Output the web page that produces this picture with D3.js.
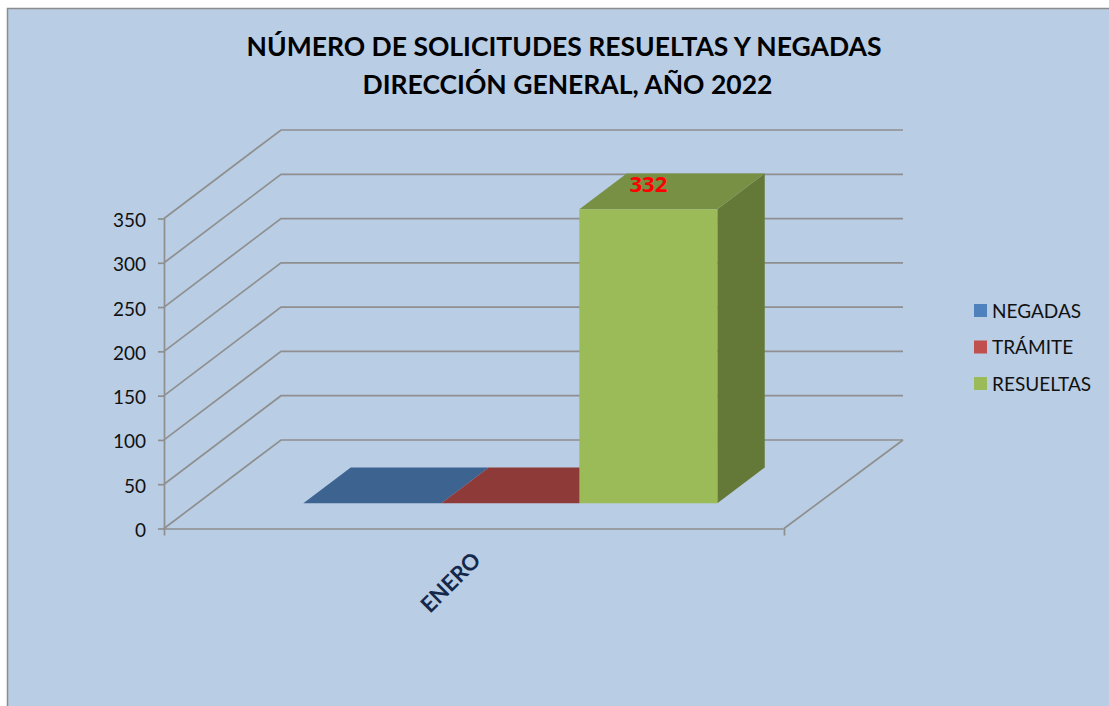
<!DOCTYPE html>
<html>
<head>
<meta charset="utf-8">
<script src="https://cdn.jsdelivr.net/npm/d3@7"></script>
<style>
  html, body { margin: 0; padding: 0; background: #fff; overflow: hidden; }
  text { font-family: Lato, "Open Sans", sans-serif; }
</style>
</head>
<body>
<script>
// Chart values
var categories = ["ENERO"];
var series = ["NEGADAS", "TRÁMITE", "RESUELTAS"];
var values = [0, 0, 332];
var yTicks = [0, 50, 100, 150, 200, 250, 300, 350];
var titleLines = ["NÚMERO DE SOLICITUDES RESUELTAS Y NEGADAS", "DIRECCIÓN GENERAL, AÑO 2022"];

// Colours per series: legend/front, top face, side face
var frontColors = ["#4f81bd", "#c0504d", "#9bbb59"];
var topColors = ["#3d6491", "#8e3a38", "#779043"];
var sideColors = ["#34557c", "#7a3230", "#647837"];

var width = 1109, height = 706;
var gridColor = "#8f8f8f";

var svg = d3.select("body").append("svg")
    .attr("width", width)
    .attr("height", height);

// Background panel, runs off the right and bottom edge of the picture
svg.append("rect")
    .attr("x", 7.5).attr("y", 8.5)
    .attr("width", width + 20).attr("height", height + 20)
    .attr("fill", "#b9cde5")
    .attr("stroke", "#8c8c8c")
    .attr("stroke-width", 1.5);

var y = d3.scaleLinear().domain([0, 350]).range([528.5, 218.5]);
var x = d3.scaleBand().domain(categories).range([164, 784]);
var seriesX = d3.scaleBand().domain(series).range([270, 684]);

// Depth of the floor goes back and up
var depthX = d3.scaleLinear().domain([0, 1]).range([0, 117]);
var depthY = d3.scaleLinear().domain([0, 1]).range([0, -88.5]);
var barDepth = [0.285, 0.69];

function project(px, value, depth) {
  return [px + depthX(depth), y(value) + depthY(depth)];
}

function face(points) {
  return "M" + points.map(function(p) { return p.join(","); }).join("L") + "Z";
}

// Gridlines: side wall and back wall
var grid = svg.append("g").attr("fill", "none").attr("stroke", gridColor).attr("stroke-width", 1.7);
yTicks.forEach(function(t) {
  var a = project(x.range()[0], t, 0), b = project(x.range()[0], t, 1), c = project(x.range()[1], t, 1);
  c[0] += 2;
  grid.append("path").attr("d", "M" + [a, b, c].map(function(p) { return p.join(","); }).join("L"));
});
// floor right edge
grid.append("path").attr("d", "M" + project(x.range()[1], 0, 0).join(",") + "L" + project(x.range()[1] + 2, 0, 1).join(","));

// Bars
series.forEach(function(s, i) {
  var left = seriesX(s), right = left + seriesX.bandwidth(), v = values[i];
  var d0 = barDepth[0], d1 = barDepth[1];
  var g = svg.append("g").attr("class", "bar");
  g.append("path").attr("fill", sideColors[i])
      .attr("d", face([project(right, 0, d0), project(right, 0, d1), project(right, v, d1), project(right, v, d0)]));
  g.append("path").attr("fill", topColors[i])
      .attr("d", face([project(left, v, d0), project(right, v, d0), project(right, v, d1), project(left, v, d1)]));
  g.append("path").attr("fill", frontColors[i])
      .attr("d", face([project(left, 0, d0), project(right, 0, d0), project(right, v, d0), project(left, v, d0)]));
});

// Axes
var yAxis = d3.axisLeft(y).tickValues(yTicks).tickSizeInner(6).tickSizeOuter(0).tickPadding(12);
var xAxis = d3.axisBottom(x).tickSizeInner(0).tickSizeOuter(7);

var yGroup = svg.append("g").attr("class", "axis y").attr("transform", "translate(164,0)").call(yAxis);
var xGroup = svg.append("g").attr("class", "axis x").attr("transform", "translate(0,528.5)").call(xAxis);

svg.selectAll(".axis path, .axis line").attr("stroke", gridColor).attr("stroke-width", 1.7);

yGroup.selectAll("text")
    .attr("font-size", 19)
    .attr("dy", "0.42em")
    .attr("fill", "#111");

xGroup.selectAll("text")
    .attr("font-size", 22)
    .attr("font-weight", 700)
    .attr("fill", "#14284b")
    .attr("text-anchor", "end")
    .attr("transform", "translate(-5,20) rotate(-45)")
    .attr("dy", "0.71em");

// Data label sits on the top face of the bar, lined up with the front face
var labelPos = project(seriesX("RESUELTAS") + seriesX.bandwidth() / 2, values[2], barDepth[0]);
svg.append("text")
    .attr("x", labelPos[0])
    .attr("y", 192)
    .attr("text-anchor", "middle")
    .style("font-family", "'Open Sans', sans-serif")
    .attr("font-size", 22)
    .attr("font-weight", 700)
    .attr("fill", "#ff0000")
    .text(values[2]);

// Title
svg.selectAll(".title").data(titleLines).enter().append("text")
    .attr("class", "title")
    .attr("x", function(d, i) { return i === 0 ? 564 : 567.5; })
    .attr("y", function(d, i) { return 56 + i * 38; })
    .attr("text-anchor", "middle")
    .attr("font-size", 26.5)
    .attr("font-weight", 700)
    .attr("fill", "#000")
    .text(function(d) { return d; });

// Legend
var legend = svg.selectAll(".legend").data(series).enter().append("g")
    .attr("class", "legend")
    .attr("transform", function(d, i) { return "translate(974," + (304 + i * 36.5) + ")"; });
legend.append("rect")
    .attr("width", 13).attr("height", 13)
    .attr("fill", function(d, i) { return frontColors[i]; });
legend.append("text")
    .attr("x", 18).attr("y", 13.5)
    .attr("font-size", 19)
    .attr("fill", "#111")
    .text(function(d) { return d; });
</script>
</body>
</html>
